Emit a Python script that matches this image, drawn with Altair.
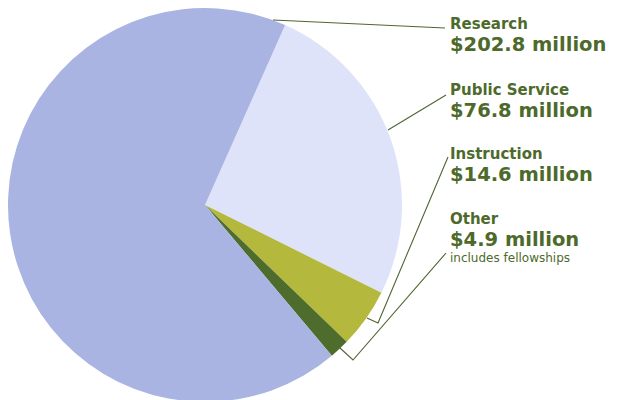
import math
import altair as alt
import pandas as pd

# ---- data ----
categories = ["Public Service", "Instruction", "Other", "Research"]
values = [76.8, 14.6, 4.9, 202.8]
value_labels = ["$76.8 million", "$14.6 million", "$4.9 million", "$202.8 million"]
notes = ["", "", "includes fellowships", ""]
colors = ["#dfe3f9", "#b4b83c", "#4e6d2c", "#a9b4e2"]

# ---- layout (screen pixels) ----
W, H = 608, 400
OFF = 8
cx, cy, R = 205, 205, 197
start = math.radians(24)

# label anchor (x, y of category baseline) for each category
label_x = [450, 450, 450, 450]
label_y = [95, 159, 224, 29]
# leader line vertices for each category
leaders = {
    "Research": [(273, 20), (445, 28)],
    "Public Service": [(388, 130), (446, 95)],
    "Instruction": [(367, 318), (378, 323), (448, 157)],
    "Other": [(340, 348), (353, 360), (446, 253)],
}

text_color = "#4d6a2b"
line_color = "#4f6530"

pie_df = pd.DataFrame({"cat": categories, "val": values, "ord": list(range(len(categories)))})

xs = alt.Scale(domain=[0, W], range=[-OFF, W - OFF])
ys = alt.Scale(domain=[0, H], range=[-OFF, H - OFF])

pie = alt.Chart(pie_df).mark_arc(radius=R, stroke=None).encode(
    theta=alt.Theta("val:Q", stack=True, scale=alt.Scale(range=[start, start + 2 * math.pi])),
    order=alt.Order("ord:Q"),
    color=alt.Color("cat:N", scale=alt.Scale(domain=categories, range=colors), legend=None),
    x=alt.value(cx - OFF),
    y=alt.value(cy - OFF),
)

rows = []
for cat, pts in leaders.items():
    for i, (px, py) in enumerate(pts):
        rows.append({"cat": cat, "i": i, "px": px, "py": py})
line_df = pd.DataFrame(rows)

lines = alt.Chart(line_df).mark_line(color=line_color, strokeWidth=1.1).encode(
    x=alt.X("px:Q", scale=xs, axis=None),
    y=alt.Y("py:Q", scale=ys, axis=None),
    detail="cat:N",
    order="i:Q",
)

lab_df = pd.DataFrame({"cat": categories, "lx": label_x, "ly": label_y,
                       "vl": value_labels, "note": notes})
lab_df["ly2"] = lab_df["ly"] + 22
lab_df["ly3"] = lab_df["ly"] + 38

font = "DejaVu Sans"
t1 = alt.Chart(lab_df).mark_text(align="left", baseline="alphabetic", font=font,
                                 fontSize=15, fontWeight="bold", color=text_color).encode(
    x=alt.X("lx:Q", scale=xs, axis=None), y=alt.Y("ly:Q", scale=ys, axis=None), text="cat:N")
t2 = alt.Chart(lab_df).mark_text(align="left", baseline="alphabetic", font=font,
                                 fontSize=19.5, fontWeight="bold", color=text_color).encode(
    x=alt.X("lx:Q", scale=xs, axis=None), y=alt.Y("ly2:Q", scale=ys, axis=None), text="vl:N")
t3 = alt.Chart(lab_df).mark_text(align="left", baseline="alphabetic", font=font,
                                 fontSize=12, color=text_color).encode(
    x=alt.X("lx:Q", scale=xs, axis=None), y=alt.Y("ly3:Q", scale=ys, axis=None), text="note:N")

chart = alt.layer(pie, lines, t1, t2, t3).properties(
    width=W, height=H, padding=0, background="white",
    autosize=alt.AutoSizeParams(type="none")
).configure_view(stroke=None)

chart.save("out.html", embed_options={"renderer": "svg", "actions": False})
